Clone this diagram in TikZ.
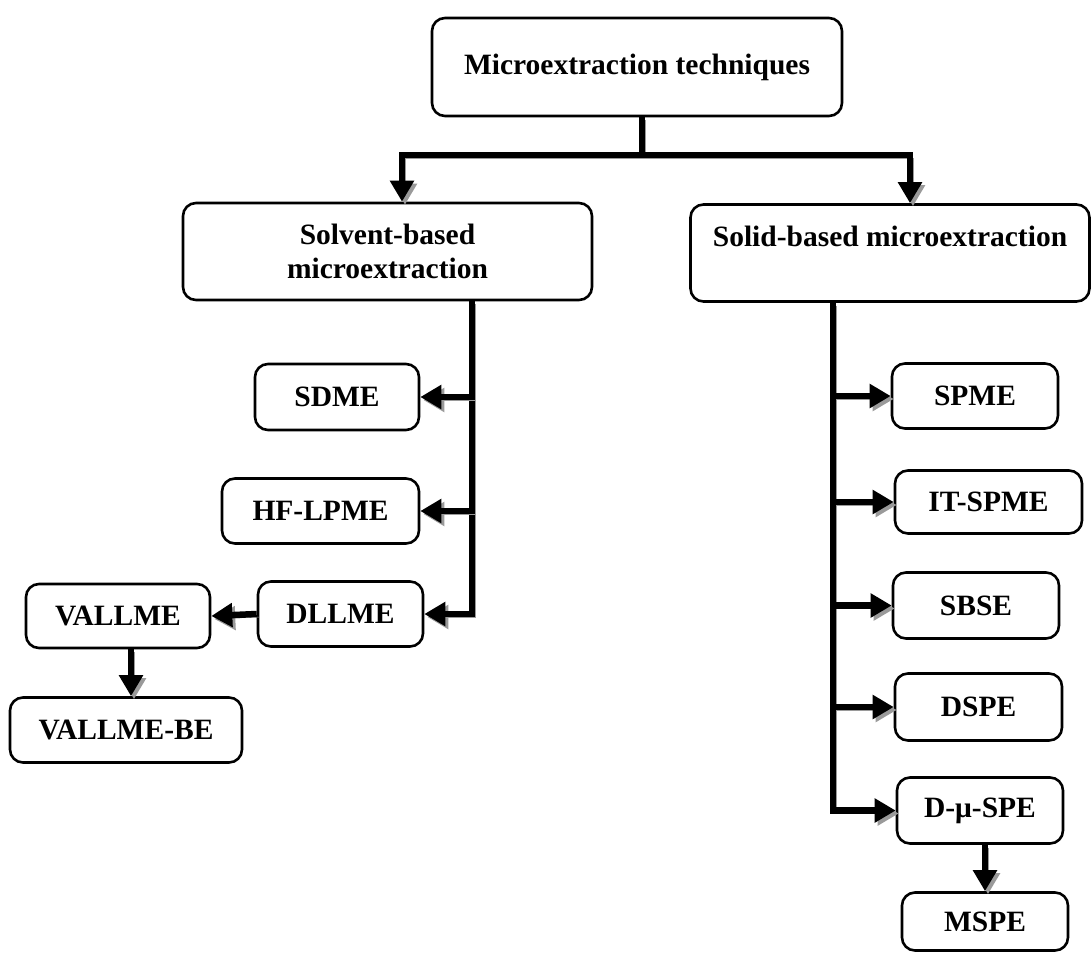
\documentclass[tikz,border=0pt]{standalone}
\usepackage{fontspec}
\setmainfont{Liberation Serif}
\usetikzlibrary{arrows.meta}
\definecolor{cshadow}{HTML}{9a9a9a}

\begin{document}
\begin{tikzpicture}[x=1pt,y=-1pt,
  box/.style={draw,line width=2.6pt,rounded corners=13pt,align=center,
    inner sep=0pt,font=\bfseries\fontsize{29.5}{34}\selectfont},
  link/.style={line width=6.5pt,
    preaction={draw=cshadow,transform canvas={shift={(3pt,-3pt)}}}},
  arrow/.style={link,-{Triangle[length=21pt,width=23pt]}}]
  \useasboundingbox (0,0) rectangle (1092,954);
  \node[box,minimum width=410,minimum height=98] (top) at (637,67) {Microextraction techniques};
  \node[box,minimum width=409,minimum height=97] (solv) at (387.5,251.5) {Solvent-based\\microextraction};
  \node[box,minimum width=399,minimum height=97] (solid) at (890,253) {Solid-based microextraction\\\mbox{}};
  \node[box,minimum width=164,minimum height=66] (sdme) at (337,397) {SDME};
  \node[box,minimum width=197,minimum height=65] (hflpme) at (320.5,511) {HF-LPME};
  \node[box,minimum width=165,minimum height=65] (dllme) at (340.5,614) {DLLME};
  \node[box,minimum width=184,minimum height=64] (vallme) at (118,616) {VALLME};
  \node[box,minimum width=232,minimum height=65] (vallmebe) at (126,730) {VALLME-BE};
  \node[box,minimum width=166,minimum height=65] (spme) at (975,396) {SPME};
  \node[box,minimum width=187,minimum height=63] (itspme) at (988.5,502) {IT-SPME};
  \node[box,minimum width=166,minimum height=66] (sbse) at (976,605.5) {SBSE};
  \node[box,minimum width=167,minimum height=67] (dspe) at (978.5,707) {DSPE};
  \node[box,minimum width=166,minimum height=66] (dmuspe) at (980,810.5) {D-μ-SPE};
  \node[box,minimum width=166,minimum height=58] (mspe) at (985,921.5) {MSPE};
  \coordinate (split) at (642,155);
  \coordinate (ltrunk) at (472,300);
  \coordinate (rtrunk) at (833,300);
  \draw[link] (top.south -| split) -- (split);
  \draw[arrow] (split) -| ([xshift=14.5pt]solv.north);
  \draw[arrow] (split) -| ([xshift=20pt]solid.north);
  \draw[arrow] (solv.south -| ltrunk) |- (dllme.east);
  \draw[arrow] (sdme.east -| ltrunk) -- (sdme.east);
  \draw[arrow] (hflpme.east -| ltrunk) -- (hflpme.east);
  \draw[arrow] (dllme.west) -- (vallme.east);
  \draw[arrow] ([xshift=5pt]vallmebe.north |- vallme.south) -- ([xshift=5pt]vallmebe.north);
  \draw[arrow] (solid.south -| rtrunk) |- (dmuspe.west);
  \draw[arrow] (spme.west -| rtrunk) -- (spme.west);
  \draw[arrow] (itspme.west -| rtrunk) -- (itspme.west);
  \draw[arrow] (sbse.west -| rtrunk) -- (sbse.west);
  \draw[arrow] (dspe.west -| rtrunk) -- (dspe.west);
  \draw[arrow] (mspe.north |- dmuspe.south) -- (mspe.north);
\end{tikzpicture}
\end{document}
